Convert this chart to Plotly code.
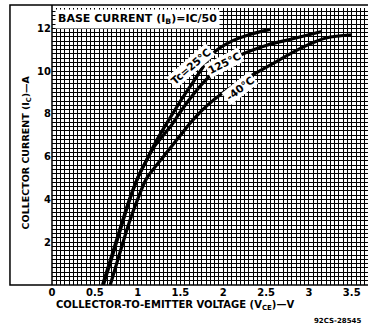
import plotly.graph_objects as go

# Data
v_25 = [0.60, 0.70, 0.80, 0.90, 1.00, 1.10, 1.20, 1.30, 1.40, 1.50, 1.65, 1.80, 1.90, 2.10, 2.30, 2.55]
i_25 = [0.0, 1.3, 2.6, 3.9, 5.0, 5.8, 6.6, 7.3, 7.95, 8.6, 9.5, 10.4, 10.9, 11.4, 11.7, 11.95]

v_125 = [0.59, 0.70, 0.80, 0.90, 1.00, 1.10, 1.20, 1.30, 1.40, 1.50, 1.60, 1.70, 1.80, 2.00, 2.20, 2.50, 2.80, 3.00, 3.15]
i_125 = [0.0, 1.4, 2.7, 3.95, 5.0, 5.8, 6.5, 7.0, 7.5, 8.1, 8.65, 9.15, 9.6, 10.3, 10.75, 11.2, 11.5, 11.7, 11.85]

v_m40 = [0.68, 0.80, 0.90, 1.00, 1.10, 1.20, 1.30, 1.40, 1.50, 1.60, 1.70, 1.80, 2.00, 2.20, 2.40, 2.60, 2.80, 3.00, 3.20, 3.50]
i_m40 = [0.0, 1.6, 2.9, 4.0, 4.95, 5.5, 6.0, 6.5, 7.0, 7.5, 7.95, 8.35, 9.0, 9.5, 9.95, 10.4, 10.85, 11.25, 11.55, 11.7]

x_ticks = [0, 0.5, 1, 1.5, 2, 2.5, 3, 3.5]
x_tick_labels = ["0", "0.5", "1", "1.5", "2", "2.5", "3", "3.5"]
y_ticks = [2, 4, 6, 8, 10, 12]
y_tick_labels = ["2", "4", "6", "8", "10", "12"]

FONT = "DejaVu Sans"

fig = go.Figure()
for v, i in [(v_25, i_25), (v_125, i_125), (v_m40, i_m40)]:
    fig.add_trace(go.Scatter(x=v, y=i, mode="lines", line=dict(color="black", width=3.2, shape="spline"),
                             showlegend=False, hoverinfo="skip"))

def curve_label(text, x, y, angle):
    fig.add_annotation(x=x, y=y, xref="x", yref="y", text=text, showarrow=False, textangle=angle,
                       bgcolor="white", borderpad=1,
                       font=dict(family=FONT, size=10.5, color="black", weight="bold"))

curve_label("Tc=25°C", 1.62, 10.26, -41)
curve_label("125°C", 2.01, 10.37, -27)
curve_label("-40°C", 2.20, 9.2, -38)

# header box
fig.add_annotation(x=0.008, y=0.997, xref="paper", yref="paper", xanchor="left", yanchor="top",
                   text="BASE CURRENT (I<sub>B</sub>)=IC/50", showarrow=False, bgcolor="white",
                   borderpad=2, font=dict(family=FONT, size=11, color="black", weight="bold"))

# axis titles as annotations
fig.add_annotation(x=-0.108, y=0.48, xref="paper", yref="paper", textangle=-90,
                   text="COLLECTOR CURRENT (I<sub>C</sub>)—A", showarrow=False,
                   font=dict(family=FONT, size=9.5, color="black", weight="bold"))
fig.add_annotation(x=0.39, y=-0.045, xref="paper", yref="paper", yanchor="top",
                   text="COLLECTOR-TO-EMITTER VOLTAGE (V<sub>CE</sub>)—V", showarrow=False,
                   font=dict(family=FONT, size=10, color="black", weight="bold"))
fig.add_annotation(x=0.985, y=-0.11, xref="paper", yref="paper", xanchor="right", yanchor="top",
                   text="92CS-28545", showarrow=False,
                   font=dict(family=FONT, size=7, color="black", weight="bold"))

# outer frame
fig.add_shape(type="rect", xref="paper", yref="paper", x0=-0.133, x1=1.02, y0=0, y1=1.011,
              line=dict(color="black", width=1.5), fillcolor="rgba(0,0,0,0)", layer="above")
fig.add_shape(type="line", xref="paper", yref="paper", x0=0, x1=0, y0=0, y1=1.011,
              line=dict(color="black", width=1.5), layer="above")

fig.update_layout(
    width=368, height=328, margin=dict(l=52, r=0, t=8, b=43),
    paper_bgcolor="white", plot_bgcolor="white",
    font=dict(family=FONT, color="black"),
    xaxis=dict(range=[0, 3.69], tickvals=x_ticks, ticktext=x_tick_labels, showgrid=True,
               gridcolor="black", gridwidth=1.3, zeroline=False, showline=False, ticks="",
               ticklabelstandoff=0, automargin=False,
               tickfont=dict(family=FONT, size=10, color="black", weight="bold"),
               minor=dict(dtick=0.05, tick0=0, showgrid=True, gridcolor="black", gridwidth=1.3)),
    yaxis=dict(range=[0, 12.95], tickvals=y_ticks, ticktext=y_tick_labels, showgrid=True,
               gridcolor="black", gridwidth=1.3, zeroline=False, showline=False, ticks="",
               automargin=False,
               tickfont=dict(family=FONT, size=10, color="black", weight="bold"),
               minor=dict(dtick=0.2, tick0=0, showgrid=True, gridcolor="black", gridwidth=1.3)),
)

fig.write_html("out.html", config={"displayModeBar": False},
               post_script="document.body.style.margin='0';document.body.style.padding='0';")
